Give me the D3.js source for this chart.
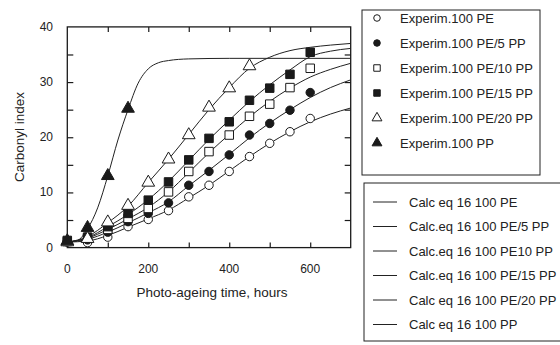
<!DOCTYPE html>
<html>
<head>
<meta charset="utf-8">
<script src="https://cdn.jsdelivr.net/npm/d3@7"></script>
<style>
  body { margin: 0; background: #fff; }
  svg { font-family: "Liberation Sans", Arial, sans-serif; }
</style>
</head>
<body>
<div id="viz"></div>
<script>
// experimental points (hours, carbonyl index)
const hours = [0, 50, 100, 150, 200, 250, 300, 350, 400, 450, 500, 550, 600];
const expPE    = [1.0, 0.9, 1.9, 3.8, 5.1, 6.7, 9.2, 11.3, 13.8, 16.5, 18.9, 21.0, 23.4];
const expPE5   = [1.1, 1.4, 2.8, 4.7, 6.2, 8.1, 11.3, 13.8, 16.8, 20.4, 22.5, 24.9, 28.1];
const expPE10  = [1.1, 1.7, 3.3, 5.3, 7.1, 10.1, 13.8, 17.4, 20.4, 23.8, 26.0, 29.0, 32.5];
const expPE15  = [1.3, 1.9, 3.8, 6.2, 8.6, 11.9, 15.9, 19.8, 22.8, 26.7, 28.9, 31.4, 35.4];
const expPE20  = [1.0, 1.6, 4.6, 7.6, 11.8, 16.0, 20.4, 25.4, 28.9, 32.9];
const expPP    = [1.2, 3.6, 13.0, 25.2];

// calculated curves (eq 16)
const calcHours = [0, 50, 100, 150, 200, 250, 300, 350, 400, 450, 500, 550, 600, 650, 700];
const calcPE   = [1.0, 1.2, 2.2, 3.7, 5.2, 6.8, 9.0, 11.3, 13.9, 16.5, 18.9, 21.0, 22.8, 24.2, 25.3];
const calcPE5  = [1.0, 1.5, 2.8, 4.5, 6.3, 8.3, 11.2, 14.0, 16.9, 19.9, 22.6, 25.0, 27.2, 29.0, 30.4];
const calcPE10 = [1.0, 1.7, 3.3, 5.2, 7.3, 10.1, 13.6, 17.2, 20.5, 23.7, 26.5, 28.9, 30.9, 32.3, 33.4];
const calcPE15 = [1.0, 1.8, 3.8, 6.0, 8.7, 12.0, 15.8, 19.6, 23.1, 26.5, 29.5, 32.2, 34.6, 35.6, 36.1];
const calcPE20 = [1.0, 2.0, 4.5, 7.5, 11.8, 16.0, 20.5, 25.0, 29.0, 32.5, 34.5, 35.7, 36.3, 36.7, 37.0];
const calcPPHours = [0, 25, 50, 75, 100, 125, 150, 175, 200, 225, 250, 300, 400, 700];
const calcPP   = [1.0, 1.3, 3.4, 7.2, 13.0, 19.5, 25.0, 29.8, 32.4, 33.5, 33.9, 34.2, 34.3, 34.3];

const expLabels = ['Experim.100 PE', 'Experim.100 PE/5 PP', 'Experim.100 PE/10 PP',
  'Experim.100 PE/15 PP', 'Experim.100 PE/20 PP', 'Experim.100 PP'];
const calcLabels = ['Calc eq 16 100 PE', 'Calc.eq 16 100 PE/5 PP', 'Calc.eq 16 100 PE10 PP',
  'Calc.eq 16 100 PE/15 PP', 'Calc eq 16 100 PE/20 PP', 'Calc eq 16 100 PP'];
const xTicks = [0, 200, 400, 600];
const yTicks = [0, 10, 20, 30, 40];

const svg = d3.select('#viz').append('svg')
  .attr('width', 560)
  .attr('height', 345);

const x = d3.scaleLinear().domain([0, 700]).range([67.3, 350.7]);
const y = d3.scaleLinear().domain([0, 40]).range([247.6, 26.9]);
const ink = '#1a1a1a';

// frame
svg.append('rect')
  .attr('x', x(0)).attr('y', y(40))
  .attr('width', x(700) - x(0)).attr('height', y(0) - y(40))
  .attr('fill', 'none').attr('stroke', ink).attr('stroke-width', 1.3);

// inward ticks on all sides
const tickX = d3.range(100, 700, 100);
const tickY = d3.range(5, 40, 5);
svg.append('g').attr('transform', `translate(0,${y(0)})`)
  .call(d3.axisBottom(x).tickValues(tickX).tickSize(-5).tickFormat(''))
  .call(g => g.select('.domain').remove());
svg.append('g').attr('transform', `translate(0,${y(40)})`)
  .call(d3.axisTop(x).tickValues(tickX).tickSize(-5).tickFormat(''))
  .call(g => g.select('.domain').remove());
svg.append('g').attr('transform', `translate(${x(0)},0)`)
  .call(d3.axisLeft(y).tickValues(tickY).tickSize(-6).tickFormat(''))
  .call(g => g.select('.domain').remove());
svg.append('g').attr('transform', `translate(${x(700)},0)`)
  .call(d3.axisRight(y).tickValues(tickY).tickSize(-6).tickFormat(''))
  .call(g => g.select('.domain').remove());
svg.selectAll('.tick line').attr('stroke', ink).attr('stroke-width', 1.2);

// tick labels
svg.append('g').selectAll('text').data(xTicks).join('text')
  .attr('x', d => x(d)).attr('y', 273)
  .attr('text-anchor', 'middle').attr('font-size', 12).attr('fill', '#222')
  .text(d => d);
svg.append('g').selectAll('text').data(yTicks).join('text')
  .attr('x', 53).attr('y', d => y(d) + 4)
  .attr('text-anchor', 'end').attr('font-size', 12).attr('fill', '#222')
  .text(d => d);

// axis titles
svg.append('text')
  .attr('x', 212).attr('y', 297)
  .attr('text-anchor', 'middle').attr('font-size', 13.5).attr('fill', '#222')
  .text('Photo-ageing time, hours');
svg.append('text')
  .attr('transform', 'translate(24,137) rotate(-90)')
  .attr('text-anchor', 'middle').attr('font-size', 13.5).attr('fill', '#222')
  .text('Carbonyl index');

// calculated lines
const line = d3.line()
  .x(d => x(d[0]))
  .y(d => y(d[1]))
  .curve(d3.curveMonotoneX);

const calcSeries = [
  [calcHours, calcPE], [calcHours, calcPE5], [calcHours, calcPE10],
  [calcHours, calcPE15], [calcHours, calcPE20], [calcPPHours, calcPP]
];
calcSeries.forEach(([xs, ys]) => {
  svg.append('path')
    .datum(xs.map((h, i) => [h, ys[i]]))
    .attr('d', line)
    .attr('fill', 'none')
    .attr('stroke', '#222')
    .attr('stroke-width', 1);
});

// marker shapes
const types = [d3.symbolCircle, d3.symbolCircle, d3.symbolSquare,
  d3.symbolSquare, d3.symbolTriangle, d3.symbolTriangle];
const sizes = [56, 56, 72, 72, 70, 70];
const fills = ['#fff', ink, '#fff', ink, '#fff', ink];

const expSeries = [expPE, expPE5, expPE10, expPE15, expPE20, expPP];
expSeries.forEach((vals, k) => {
  svg.append('g').selectAll('path')
    .data(vals.map((v, i) => [hours[i], v]))
    .join('path')
    .attr('d', d3.symbol().type(types[k]).size(sizes[k])())
    .attr('transform', d => `translate(${x(d[0])},${y(d[1])})`)
    .attr('fill', fills[k])
    .attr('stroke', ink)
    .attr('stroke-width', 1);
});

// legend 1: experimental
const leg1 = svg.append('g');
leg1.append('rect')
  .attr('x', 362).attr('y', 10).attr('width', 178).attr('height', 165)
  .attr('fill', '#fff').attr('stroke', '#222').attr('stroke-width', 1);
expLabels.forEach((lab, i) => {
  const cy = 18 + i * 25;
  leg1.append('path')
    .attr('d', d3.symbol().type(types[i]).size(i < 2 ? 34 : 42)())
    .attr('transform', `translate(377,${cy})`)
    .attr('fill', fills[i]).attr('stroke', ink).attr('stroke-width', 1);
  leg1.append('text')
    .attr('x', 400).attr('y', cy + 4.5)
    .attr('font-size', 13).attr('fill', '#222')
    .text(lab);
});

// legend 2: calculated (box runs off the right edge)
const leg2 = svg.append('g');
leg2.append('rect')
  .attr('x', 364).attr('y', 183).attr('width', 220).attr('height', 158)
  .attr('fill', '#fff').attr('stroke', '#222').attr('stroke-width', 1);
calcLabels.forEach((lab, i) => {
  const cy = 202 + i * 24.5;
  leg2.append('line')
    .attr('x1', 373).attr('x2', 397).attr('y1', cy).attr('y2', cy)
    .attr('stroke', '#222').attr('stroke-width', 1);
  leg2.append('text')
    .attr('x', 409).attr('y', cy + 4.5)
    .attr('font-size', 13).attr('fill', '#222')
    .text(lab);
});
</script>
</body>
</html>
